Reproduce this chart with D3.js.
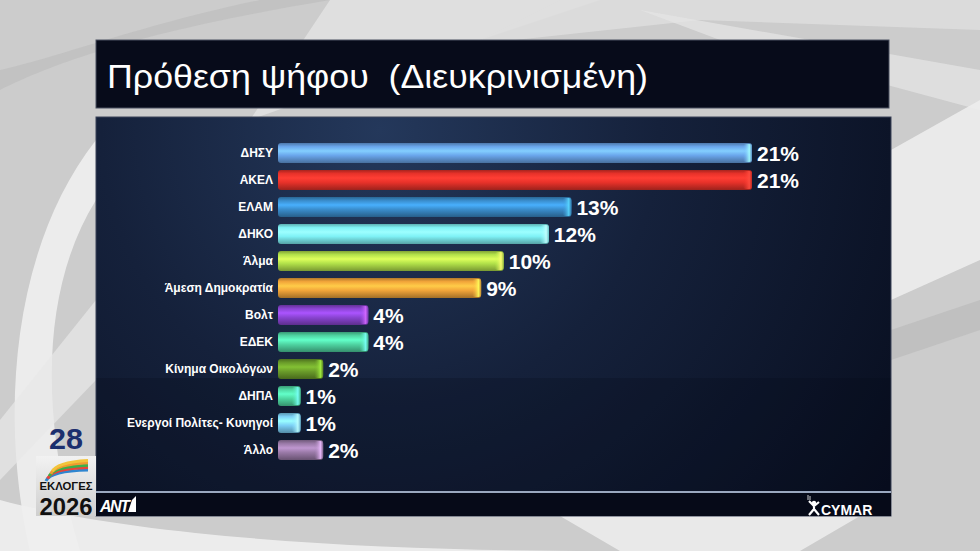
<!DOCTYPE html>
<html>
<head>
<meta charset="utf-8">
<script src="https://cdn.jsdelivr.net/npm/d3@7/dist/d3.min.js"></script>
<style>
  html, body { margin: 0; padding: 0; background: #cdcdcd; }
  svg { display: block; }
</style>
</head>
<body>
<svg id="chart" width="980" height="551"></svg>
<script>
// Poll results: voting intention (adjusted), percent per party
const parties = ["ΔΗΣΥ", "ΑΚΕΛ", "ΕΛΑΜ", "ΔΗΚΟ", "Άλμα", "Άμεση Δημοκρατία", "Βολτ", "ΕΔΕΚ",
                 "Κίνημα Οικολόγων", "ΔΗΠΑ", "Ενεργοί Πολίτες- Κυνηγοί", "Άλλο"];
const shares = [21, 21, 13, 12, 10, 9, 4, 4, 2, 1, 1, 2];
const barColors = ["#6aa6ec", "#e8322a", "#3a8dcc", "#7ff2f6", "#b3e24a", "#f2a53a",
                   "#8a44d2", "#4fd4a2", "#6a9c2a", "#4fd8a2", "#7cd0f6", "#9a7aa8"];
const titleText = "Πρόθεση ψήφου  (Διευκρινισμένη)";

const svg = d3.select("#chart");
const defs = svg.append("defs");
const FONT = "Liberation Sans, Arial, sans-serif";

// ---- backdrop: grey studio background with white swooshes
svg.append("rect").attr("width", 980).attr("height", 551).attr("fill", "#cccccc");
const sw = svg.append("g");
sw.append("path").attr("d", "M330,0 L600,0 L420,60 L250,120 Z").attr("fill", "#e4e4e4").attr("opacity", 0.8);
sw.append("path").attr("d", "M560,0 L980,0 L980,30 L700,20 L470,45 Z").attr("fill", "#dedede").attr("opacity", 0.8);
sw.append("path").attr("d", "M640,10 L980,70 L980,110 L720,40 Z").attr("fill", "#e6e6e6").attr("opacity", 0.7);
sw.append("path").attr("d", "M0,90 C60,60 150,30 330,0 L260,0 C140,25 50,60 0,70 Z").attr("fill", "#bdbdbd").attr("opacity", 0.7);
sw.append("path").attr("d", "M30,551 C0,420 10,250 96,140 L96,200 C40,290 40,420 80,551 Z").attr("fill", "#f0f0f0").attr("opacity", 0.9);
sw.append("path").attr("d", "M0,420 L96,300 L96,380 L0,480 Z").attr("fill", "#e8e8e8").attr("opacity", 0.7);
sw.append("path").attr("d", "M0,500 C150,540 400,551 600,551 L0,551 Z").attr("fill", "#efefef").attr("opacity", 0.9);
sw.append("path").attr("d", "M560,516 L860,516 L800,551 L620,551 Z").attr("fill", "#ececec").attr("opacity", 0.9);
sw.append("path").attr("d", "M891,150 L980,100 L980,260 L891,300 Z").attr("fill", "#ededed").attr("opacity", 0.9);
sw.append("path").attr("d", "M891,330 L980,300 L980,330 L891,360 Z").attr("fill", "#b8b8b8").attr("opacity", 0.6);

// ---- title box
svg.append("rect").attr("x", 96).attr("y", 40).attr("width", 793).attr("height", 68)
  .attr("fill", "#070b1a").attr("stroke", "#4a5060").attr("stroke-width", 1);
svg.append("text").attr("x", 107).attr("y", 88)
  .attr("font-family", FONT).attr("font-size", 34)
  .attr("textLength", 541).attr("lengthAdjust", "spacingAndGlyphs")
  .attr("fill", "#ffffff").style("white-space", "pre").text(titleText);

// ---- chart panel
const panelGrad = defs.append("radialGradient").attr("id", "panelGrad")
  .attr("gradientUnits", "userSpaceOnUse").attr("cx", 380).attr("cy", 130).attr("r", 620);
panelGrad.append("stop").attr("offset", 0).attr("stop-color", "#24385b");
panelGrad.append("stop").attr("offset", 0.45).attr("stop-color", "#15213b");
panelGrad.append("stop").attr("offset", 1).attr("stop-color", "#080e1f");
svg.append("rect").attr("x", 96).attr("y", 117).attr("width", 795).attr("height", 399)
  .attr("fill", "url(#panelGrad)").attr("stroke", "#3a4258").attr("stroke-width", 1);
svg.append("rect").attr("x", 96.5).attr("y", 378).attr("width", 794).attr("height", 113)
  .attr("fill", "#050a18").attr("opacity", 0.22);
// footer strip
svg.append("rect").attr("x", 96).attr("y", 491).attr("width", 795).attr("height", 2).attr("fill", "#9aa8bf");
svg.append("rect").attr("x", 96).attr("y", 493).attr("width", 795).attr("height", 23).attr("fill", "#060a18");

// ---- scales
const x = d3.scaleLinear().domain([0, 21]).range([278, 752]);
const y = d3.scaleBand().domain(parties).range([139.5, 463.5]).paddingInner(0.26).paddingOuter(0.13);
const bw = y.bandwidth();

// cylinder-style gradients per bar colour
barColors.forEach((c, i) => {
  const base = d3.color(c);
  const g = defs.append("linearGradient").attr("id", "bg" + i)
    .attr("x1", 0).attr("y1", 0).attr("x2", 0).attr("y2", 1);
  g.append("stop").attr("offset", 0).attr("stop-color", base.darker(0.9));
  g.append("stop").attr("offset", 0.18).attr("stop-color", base);
  g.append("stop").attr("offset", 0.4).attr("stop-color", base.brighter(0.6));
  g.append("stop").attr("offset", 0.62).attr("stop-color", base);
  g.append("stop").attr("offset", 1).attr("stop-color", base.darker(1.1));
  const cap = defs.append("linearGradient").attr("id", "cap" + i)
    .attr("x1", 0).attr("y1", 0).attr("x2", 1).attr("y2", 0);
  cap.append("stop").attr("offset", 0).attr("stop-color", base.brighter(0.2)).attr("stop-opacity", 0);
  cap.append("stop").attr("offset", 0.7).attr("stop-color", base.brighter(1.2)).attr("stop-opacity", 0.9);
  cap.append("stop").attr("offset", 1).attr("stop-color", base.darker(0.6)).attr("stop-opacity", 1);
});

const rows = svg.append("g").selectAll("g").data(parties).join("g");

rows.append("rect")
  .attr("x", x(0)).attr("y", d => y(d))
  .attr("width", (d, i) => x(shares[i]) - x(0)).attr("height", bw)
  .attr("rx", 3).attr("fill", (d, i) => `url(#bg${i})`);

rows.append("rect")
  .attr("x", (d, i) => x(shares[i]) - 9).attr("y", d => y(d) + 1)
  .attr("width", 9).attr("height", bw - 2)
  .attr("rx", 3).attr("fill", (d, i) => `url(#cap${i})`);

rows.append("text")
  .attr("x", 273).attr("y", d => y(d) + bw / 2).attr("dy", "0.36em")
  .attr("text-anchor", "end")
  .attr("font-family", FONT).attr("font-size", 12)
  .attr("font-weight", "bold").attr("fill", "#ffffff")
  .text(d => d);

rows.append("text")
  .attr("x", (d, i) => x(shares[i]) + 5).attr("y", d => y(d) + bw / 2).attr("dy", "0.37em")
  .attr("font-family", FONT).attr("font-size", 21)
  .attr("font-weight", "bold").attr("fill", "#ffffff")
  .text((d, i) => shares[i] + "%");

// ---- broadcaster marks
// ANT1
const ant = svg.append("g").attr("transform", "translate(100,496)");
ant.append("text").attr("x", 0).attr("y", 16)
  .attr("font-family", FONT).attr("font-size", 16)
  .attr("font-weight", "bold").attr("font-style", "italic").attr("fill", "#ffffff")
  .attr("letter-spacing", -1.5).text("ANT");
ant.append("path").attr("d", "M28,16 L32,4 L36,0 L36,16 Z").attr("fill", "#ffffff");

// CYMAR
const cy = svg.append("g").attr("transform", "translate(806,495)");
cy.append("circle").attr("cx", 8).attr("cy", 8).attr("r", 2.2).attr("fill", "#fff");
cy.append("path").attr("d", "M3,6 L8,11 L13,7 M8,11 L8,14 L3,20 M8,14 L13,20")
  .attr("stroke", "#fff").attr("stroke-width", 2.2).attr("fill", "none");
cy.append("path").attr("d", "M2,0 L2,5 M4,1 L4,5").attr("stroke", "#fff").attr("stroke-width", 0.8);
cy.append("text").attr("x", 15).attr("y", 20)
  .attr("font-family", FONT).attr("font-size", 14)
  .attr("font-weight", "bold").attr("fill", "#ffffff").text("CYMAR");

// Election badge
const badge = svg.append("g");
badge.append("text").attr("x", 66).attr("y", 449).attr("text-anchor", "middle")
  .attr("font-family", FONT).attr("font-size", 29)
  .attr("font-weight", "bold").attr("fill", "#1c2f6e").attr("textLength", 34)
  .attr("lengthAdjust", "spacingAndGlyphs").text("28");
const badgeGrad = defs.append("linearGradient").attr("id", "badgeGrad")
  .attr("x1", 0).attr("y1", 0).attr("x2", 0).attr("y2", 1);
badgeGrad.append("stop").attr("offset", 0).attr("stop-color", "#f2f2f2");
badgeGrad.append("stop").attr("offset", 1).attr("stop-color", "#cfcfcf");
badge.append("rect").attr("x", 36).attr("y", 456).attr("width", 60).attr("height", 60).attr("fill", "url(#badgeGrad)");
const arcCols = ["#2f86d0", "#e8443a", "#3bb04a", "#f09a30", "#f2c43a"];
arcCols.forEach((c, i) => {
  badge.append("path")
    .attr("d", `M${46 + i * 1.6},${481 - i * 2.4} Q${50 + i * 1.6},${471 - i * 2.2} ${88},${470 - i * 2.4}`)
    .attr("stroke", c).attr("stroke-width", 3).attr("fill", "none");
});
badge.append("text").attr("x", 66).attr("y", 490).attr("text-anchor", "middle")
  .attr("font-family", FONT).attr("font-size", 10)
  .attr("font-weight", "bold").attr("fill", "#111").attr("textLength", 53)
  .attr("lengthAdjust", "spacingAndGlyphs").text("ΕΚΛΟΓΕΣ");
badge.append("text").attr("x", 66).attr("y", 515).attr("text-anchor", "middle")
  .attr("font-family", FONT).attr("font-size", 24)
  .attr("font-weight", "bold").attr("fill", "#111").attr("textLength", 53)
  .attr("lengthAdjust", "spacingAndGlyphs").text("2026");
</script>
</body>
</html>
